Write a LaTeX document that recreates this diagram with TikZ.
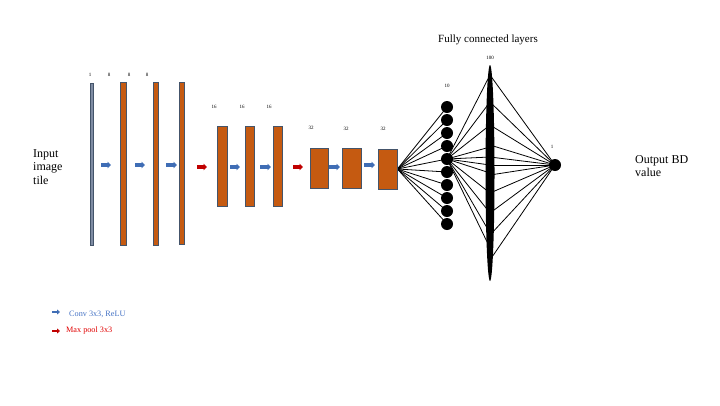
\documentclass[tikz,border=0pt]{standalone}
\usepackage{fontspec}
\setmainfont{Liberation Serif}
\usetikzlibrary{arrows.meta,shapes.geometric,backgrounds}
\definecolor{orng}{HTML}{C55A11}
\definecolor{edgec}{HTML}{44546A}
\definecolor{thinfill}{HTML}{7F8CA3}
\definecolor{blu}{HTML}{3F6DB5}
\definecolor{rd}{HTML}{C00000}
\definecolor{legblue}{HTML}{4472C4}
\definecolor{legred}{HTML}{E00000}
\begin{document}
\begin{tikzpicture}[x=1pt,y=-1pt,
  fmap/.style={draw=edgec, fill=orng, line width=0.8pt, inner sep=0pt},
  tiny/.style={font=\fontsize{5}{5.5}\selectfont, inner sep=0pt},
  bluearrow/.style={blu, line width=3.2pt, -{Triangle[length=3.5pt,width=6.5pt]}},
  redarrow/.style={rd, line width=3.2pt, -{Triangle[length=3.5pt,width=6.5pt]}},
  neuron/.style={circle, fill=black, inner sep=0pt, minimum size=12pt},
  conn/.style={black, line width=0.8pt},
  big/.style={font=\fontsize{12}{13.5}\selectfont, inner sep=0pt, align=left}
]
\useasboundingbox (0,0) rectangle (720,405);

% feature maps
\node[fmap, fill=thinfill, minimum width=3, minimum height=162] (b1) at (92,164) {};
\node[fmap, minimum width=6, minimum height=163] (b2) at (123,163.5) {};
\node[fmap, minimum width=5, minimum height=163] (b3) at (155.5,163.5) {};
\node[fmap, minimum width=5, minimum height=162] (b4) at (181.5,163) {};
\node[fmap, minimum width=10, minimum height=80] (b5) at (222,166) {};
\node[fmap, minimum width=9, minimum height=80] (b6) at (249.5,166) {};
\node[fmap, minimum width=9, minimum height=80] (b7) at (277.5,166) {};
\node[fmap, minimum width=18, minimum height=40] (b8) at (319,168) {};
\node[fmap, minimum width=19, minimum height=40] (b9) at (351.5,168) {};
\node[fmap, minimum width=19, minimum height=40] (b10) at (387.5,169) {};

% channel labels
\node[tiny] (l1) at (90,75) {1};
\node[tiny] (l2) at (109,75) {8};
\node[tiny] (l3) at (129,75) {8};
\node[tiny] (l4) at (147,75) {8};
\node[tiny] (l5) at (214,107) {16};
\node[tiny] (l6) at (242,107) {16};
\node[tiny] (l7) at (269,107) {16};
\node[tiny] (l8) at (311,128) {32};
\node[tiny] (l9) at (346,129) {32};
\node[tiny] (l10) at (383,129) {32};
\node[tiny] (l11) at (447,86) {10};
\node[tiny] (l12) at (490,58) {100};
\node[tiny] (l13) at (552,147) {1};

% block arrows
\coordinate (a1s) at (101,165); \coordinate (a1e) at (111,165);
\coordinate (a2s) at (135,165); \coordinate (a2e) at (145,165);
\coordinate (a3s) at (166,165); \coordinate (a3e) at (177,165);
\coordinate (a4s) at (197,167); \coordinate (a4e) at (207,167);
\coordinate (a5s) at (230,167); \coordinate (a5e) at (240,167);
\coordinate (a6s) at (260,167); \coordinate (a6e) at (271,167);
\coordinate (a7s) at (293,167); \coordinate (a7e) at (303,167);
\coordinate (a8s) at (329,167); \coordinate (a8e) at (340,167);
\coordinate (a9s) at (364,165); \coordinate (a9e) at (375,165);
\draw[bluearrow] (a1s) -- (a1e);
\draw[bluearrow] (a2s) -- (a2e);
\draw[bluearrow] (a3s) -- (a3e);
\draw[redarrow] (a4s) -- (a4e);
\draw[bluearrow] (a5s) -- (a5e);
\draw[bluearrow] (a6s) -- (a6e);
\draw[redarrow] (a7s) -- (a7e);
\draw[bluearrow] (a8s) -- (a8e);
\draw[bluearrow] (a9s) -- (a9e);

% fully connected part
\foreach \i in {1,...,10} {
  \node[neuron] (n\i) at (447,{107+13*(\i-1)}) {};
}
\node[ellipse, fill=black, inner sep=0pt, minimum width=9, minimum height=216] (fc) at (490,173) {};
\node[neuron] (out) at (555,165) {};

\foreach \y [count=\k] in {75,102,125,147,157,165,173,193,213,233,248} {
  \coordinate (el\k) at (490,\y);
}
\foreach \y [count=\k] in {75,102,125,145,157,165,175,193,213,235,260} {
  \coordinate (er\k) at (490,\y);
}
\begin{pgfonlayer}{background}
  \foreach \i in {1,...,10} { \draw[conn] (b10.east) -- (n\i.center); }
  \foreach \k in {1,...,11} { \draw[conn] (n5.center) -- (el\k); }
  \foreach \k in {1,...,11} { \draw[conn] (er\k) -- (out.center); }
\end{pgfonlayer}

% texts
\node[font=\fontsize{11}{12}\selectfont, inner sep=0pt] (title) at (488,40) {Fully connected layers};
\node[big, anchor=north west] (inp) at (33,149) {Input\\image\\tile};
\node[big, anchor=north west] (outp) at (635,155) {Output BD\\value};

% legend
\coordinate (g1s) at (52,312); \coordinate (g1e) at (60,312);
\coordinate (g2s) at (52,331); \coordinate (g2e) at (60,331);
\draw[blu, line width=2.5pt, -{Triangle[length=3pt,width=5pt]}] (g1s) -- (g1e);
\draw[rd, line width=2.5pt, -{Triangle[length=3pt,width=5pt]}] (g2s) -- (g2e);
\node[anchor=west, inner sep=0pt, text=legblue, font=\fontsize{8.2}{9}\selectfont] (lg1) at (69,314) {Conv 3x3, ReLU};
\node[anchor=west, inner sep=0pt, text=legred, font=\fontsize{8.2}{9}\selectfont] (lg2) at (66,331) {Max pool 3x3};
\end{tikzpicture}
\end{document}
